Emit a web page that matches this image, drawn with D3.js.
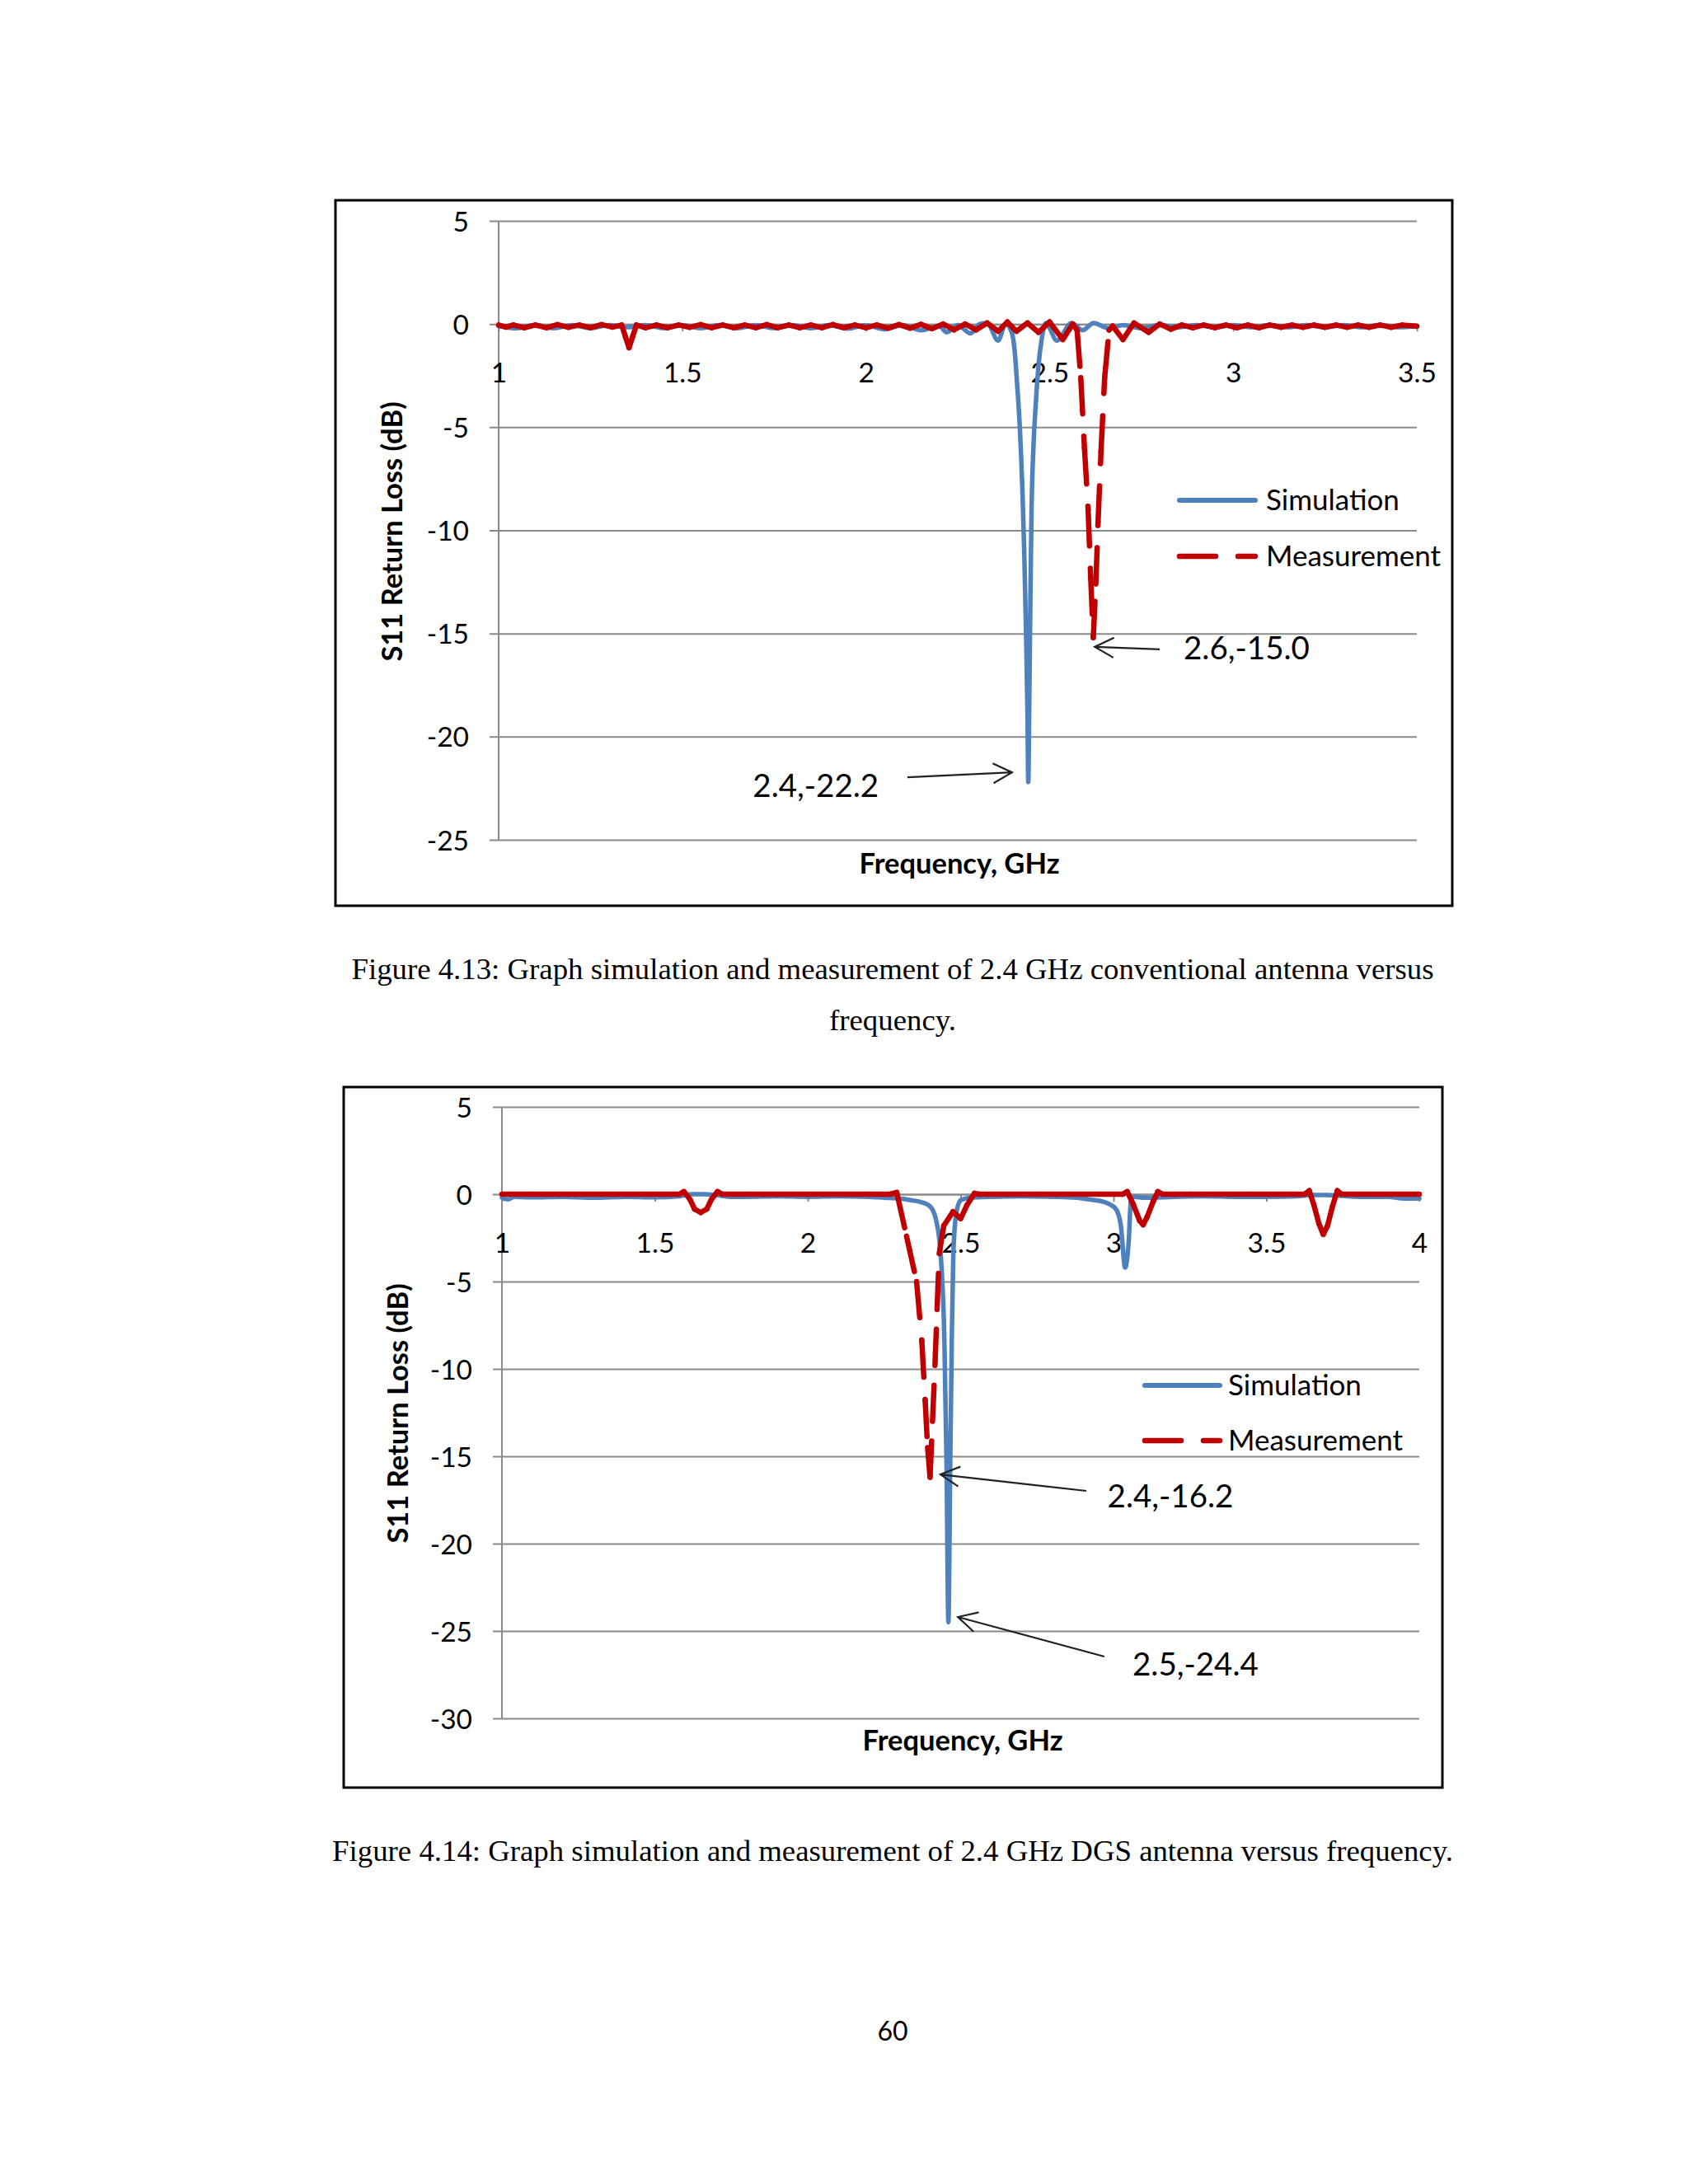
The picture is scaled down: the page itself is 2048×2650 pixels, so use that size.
<!DOCTYPE html>
<html><head><meta charset="utf-8">
<script src="https://cdn.jsdelivr.net/npm/d3@7"></script>
<style>body{margin:0;background:#fff}svg{display:block}</style>
</head><body>
<svg id="page" width="2048" height="2650"></svg>
<script>
// ---------------- data ----------------
const seriesNames = ["Simulation", "Measurement"];
const xTitle = "Frequency, GHz";
const yTitle = "S11 Return Loss (dB)";

// Figure 4.13 (conventional antenna)
const xTicks1 = [1, 1.5, 2, 2.5, 3, 3.5];
const yTicks1 = [5, 0, -5, -10, -15, -20, -25];
const sim1X = [1.00,1.05,1.10,1.15,1.20,1.25,1.30,1.35,1.40,1.45,1.50,1.55,1.60,1.65,1.70,1.75,1.80,1.85,1.90,1.95,2.00,2.05,2.10,2.15,2.20,2.22,2.25,2.285,2.31,2.33,2.36,2.38,2.397,2.405,2.412,2.419,2.426,2.431,2.436,2.440,2.442,2.445,2.448,2.451,2.456,2.462,2.470,2.478,2.49,2.52,2.56,2.59,2.62,2.66,2.70,2.75,2.80,2.85,2.90,2.95,3.00,3.05,3.10,3.15,3.20,3.25,3.30,3.35,3.40,3.45,3.50];
const sim1Y = [-0.1,-0.2,-0.05,-0.2,-0.05,-0.2,-0.05,-0.15,-0.05,-0.2,-0.05,-0.2,-0.05,-0.2,-0.05,-0.2,-0.05,-0.2,-0.05,-0.22,-0.05,-0.25,-0.05,-0.3,-0.1,-0.4,-0.05,-0.45,0.0,0.05,-0.8,0.0,-0.4,-1.3,-3,-5,-8,-11,-15,-19,-22.2,-18,-13,-9,-6,-4,-2,-0.8,0.05,-0.8,0.05,-0.3,0.05,-0.2,-0.05,-0.2,-0.05,-0.15,-0.05,-0.15,-0.05,-0.15,-0.05,-0.15,-0.05,-0.15,-0.05,-0.15,-0.05,-0.15,-0.1];
const meas1X = [1.00,1.02,1.04,1.07,1.10,1.13,1.16,1.19,1.22,1.25,1.28,1.31,1.335,1.345,1.355,1.365,1.375,1.40,1.43,1.46,1.49,1.52,1.55,1.58,1.61,1.64,1.67,1.70,1.73,1.76,1.79,1.82,1.85,1.88,1.91,1.94,1.97,2.00,2.03,2.06,2.09,2.12,2.15,2.18,2.21,2.24,2.27,2.30,2.33,2.36,2.385,2.41,2.44,2.47,2.50,2.536,2.563,2.575,2.585,2.595,2.605,2.612,2.619,2.626,2.632,2.640,2.650,2.662,2.672,2.70,2.73,2.77,2.80,2.83,2.86,2.89,2.92,2.95,2.98,3.01,3.04,3.07,3.10,3.13,3.16,3.19,3.22,3.25,3.28,3.31,3.34,3.37,3.40,3.43,3.46,3.50];
const meas1Y = [-0.05,-0.15,-0.05,-0.18,-0.05,-0.18,-0.03,-0.16,-0.05,-0.18,-0.03,-0.15,-0.05,-0.6,-1.15,-0.6,-0.05,-0.18,-0.05,-0.18,-0.05,-0.16,-0.03,-0.18,-0.05,-0.18,-0.05,-0.18,-0.03,-0.18,-0.05,-0.18,-0.05,-0.18,-0.03,-0.18,-0.05,-0.18,-0.05,-0.2,-0.03,-0.2,-0.02,-0.22,0.0,-0.28,0.0,-0.28,0.05,-0.35,0.1,-0.35,0.05,-0.4,0.1,-0.75,0.0,-0.3,-2.6,-6.0,-9.0,-12.3,-15.2,-12.6,-9.6,-6.2,-2.6,-0.3,-0.1,-0.75,0.05,-0.4,0.0,-0.25,-0.05,-0.18,-0.05,-0.18,-0.05,-0.18,-0.05,-0.18,-0.05,-0.16,-0.05,-0.16,-0.05,-0.16,-0.05,-0.16,-0.05,-0.16,-0.05,-0.16,-0.05,-0.1];
const notes1 = ["2.6,-15.0", "2.4,-22.2"];
const noteTip1 = [[2.623, -15.65], [2.398, -21.73]];
const noteTail1 = [[2.80, -15.77], [2.113, -21.97]];
const noteText1 = [[2.865, -16.25, "start"], [2.035, -22.92, "end"]];
const caption1 = ["Figure 4.13: Graph simulation and measurement of 2.4 GHz conventional antenna versus", "frequency."];

// Figure 4.14 (DGS antenna)
const xTicks2 = [1, 1.5, 2, 2.5, 3, 3.5, 4];
const yTicks2 = [5, 0, -5, -10, -15, -20, -25, -30];
const sim2X = [1.00,1.02,1.04,1.10,1.20,1.30,1.40,1.50,1.58,1.62,1.66,1.70,1.75,1.80,1.90,2.00,2.10,2.20,2.25,2.30,2.34,2.37,2.40,2.42,2.435,2.447,2.454,2.46,2.466,2.471,2.476,2.485,2.50,2.53,2.60,2.70,2.80,2.88,2.92,2.96,2.99,3.01,3.024,3.038,3.05,3.057,3.07,3.10,3.20,3.30,3.40,3.50,3.60,3.65,3.70,3.75,3.80,3.90,3.95,4.00];
const sim2Y = [-0.2,-0.3,-0.15,-0.18,-0.15,-0.2,-0.15,-0.18,-0.12,0.0,0.0,-0.05,-0.15,-0.15,-0.12,-0.15,-0.12,-0.15,-0.2,-0.25,-0.35,-0.45,-0.7,-1.5,-3.5,-8.5,-15.5,-24.5,-15.5,-8.5,-3.5,-1.2,-0.35,-0.2,-0.15,-0.12,-0.15,-0.2,-0.3,-0.4,-0.6,-0.9,-1.8,-4.2,-2.6,-0.3,-0.15,-0.2,-0.15,-0.12,-0.15,-0.15,-0.12,-0.05,-0.05,-0.1,-0.15,-0.15,-0.25,-0.25];
const meas2X = [1.00,1.10,1.20,1.30,1.40,1.50,1.58,1.595,1.615,1.63,1.65,1.67,1.685,1.705,1.72,1.80,1.90,2.00,2.10,2.20,2.27,2.291,2.323,2.356,2.373,2.384,2.392,2.400,2.408,2.416,2.423,2.430,2.445,2.475,2.50,2.52,2.545,2.56,2.65,2.75,2.85,2.95,3.03,3.045,3.065,3.085,3.097,3.11,3.13,3.145,3.16,3.25,3.35,3.45,3.55,3.625,3.64,3.655,3.672,3.686,3.70,3.716,3.732,3.745,3.85,3.95,4.00];
const meas2Y = [0,0,0,0,0,0,0,0.15,-0.3,-0.85,-1.05,-0.85,-0.3,0.15,0,0,0,0,0,0,0,0.1,-2.4,-5.0,-8.4,-11.8,-14.5,-16.2,-13.0,-9.8,-6.6,-3.4,-1.8,-1.0,-1.4,-0.65,0.05,0,0,0,0,0,0,0.15,-0.6,-1.5,-1.75,-1.3,-0.4,0.15,0,0,0,0,0,0,0.2,-0.6,-1.7,-2.3,-1.8,-0.7,0.2,0,0,0,0];
const notes2 = ["2.4,-16.2", "2.5,-24.4"];
const noteTip2 = [[2.434, -16.04], [2.491, -24.2]];
const noteTail2 = [[2.911, -16.98], [2.97, -26.46]];
const noteText2 = [[2.98, -17.92, "start"], [3.062, -27.55, "start"]];
const caption2 = ["Figure 4.14: Graph simulation and measurement of 2.4 GHz DGS antenna versus frequency."];
const pageNumber = "60";

// ---------------- layout & style ----------------
const SANS = "Lato, 'Open Sans', 'DejaVu Sans', sans-serif";
const SERIF = "'Liberation Serif', 'Times New Roman', serif";
const BLUE = "#4F81BD", RED = "#C00000", GRID = "#8a8a8a";
const svg = d3.select("#page");
svg.append("rect").attr("width", 2048).attr("height", 2650).attr("fill", "#fff");

function drawChart(L, D) {
  const g = svg.append("g");
  // border
  g.append("rect").attr("x", L.box[0]).attr("y", L.box[1])
    .attr("width", L.box[2] - L.box[0]).attr("height", L.box[3] - L.box[1])
    .attr("fill", "#fff").attr("stroke", "#000").attr("stroke-width", 3);

  const x = d3.scaleLinear().domain(D.xDomain).range(L.px);
  const y = d3.scaleLinear().domain(D.yDomain).range([L.py[1], L.py[0]]);
  const plotW = L.px[1] - L.px[0];

  // y axis with gridlines
  const ya = g.append("g").attr("transform", `translate(${L.px[0]},0)`)
    .call(d3.axisLeft(y).tickValues(D.yTicks).tickSize(-plotW).tickSizeOuter(0).tickPadding(36)
      .tickFormat(d => String(d)));
  ya.select(".domain").remove();
  ya.selectAll(".tick line").attr("x1", -11).attr("stroke", GRID).attr("stroke-width", 2);
  ya.selectAll(".tick text").attr("font-family", SANS).attr("font-size", 33.5).attr("fill", "#000")
    .attr("dy", "0.36em");
  // vertical axis line
  g.append("line").attr("x1", L.px[0]).attr("x2", L.px[0]).attr("y1", y(D.yDomain[1])).attr("y2", y(D.yDomain[0]))
    .attr("stroke", GRID).attr("stroke-width", 2);

  // x axis crossing at 0
  const xa = g.append("g").attr("transform", `translate(0,${y(0)})`)
    .call(d3.axisBottom(x).tickValues(D.xTicks).tickSize(9).tickSizeOuter(0).tickPadding(38)
      .tickFormat(d => String(d)));
  xa.select(".domain").attr("stroke", GRID).attr("stroke-width", 2);
  xa.selectAll(".tick line").attr("stroke", GRID).attr("stroke-width", 2);
  xa.selectAll(".tick text").attr("font-family", SANS).attr("font-size", 33.5).attr("fill", "#000");

  // axis titles
  g.append("text").attr("x", L.xTitle[0]).attr("y", L.xTitle[1]).attr("text-anchor", "middle")
    .attr("font-family", SANS).attr("font-weight", "bold").attr("font-size", 34.5).text(xTitle);
  g.append("text").attr("transform", `translate(${L.yTitle[0]},${L.yTitle[1]}) rotate(-90)`)
    .attr("text-anchor", "middle").attr("dominant-baseline", "central")
    .attr("font-family", SANS).attr("font-weight", "bold").attr("font-size", 34.5).text(yTitle);

  // simulation (smooth solid)
  const simPts = D.simX.map((v, i) => [v, D.simY[i]]);
  g.append("path").datum(simPts)
    .attr("d", d3.line().x(d => x(d[0])).y(d => y(d[1])).curve(d3.curveMonotoneX))
    .attr("fill", "none").attr("stroke", BLUE).attr("stroke-width", 5.5)
    .attr("stroke-linejoin", "round").attr("stroke-linecap", "round");

  // measurement (long dash, pattern restarting at every sample)
  const measPts = D.measX.map((v, i) => [v, D.measY[i]]);
  const segs = d3.pairs(measPts);
  g.append("g").selectAll("line").data(segs).join("line")
    .attr("x1", d => x(d[0][0])).attr("y1", d => y(d[0][1]))
    .attr("x2", d => x(d[1][0])).attr("y2", d => y(d[1][1]))
    .attr("stroke", RED).attr("stroke-width", 6.5).attr("stroke-linecap", "round")
    .attr("stroke-dasharray", "44 27");

  // legend
  const lg = g.append("g");
  lg.append("line").attr("x1", L.legendX[0] + 3).attr("x2", L.legendX[1] - 3)
    .attr("y1", L.legendY[0]).attr("y2", L.legendY[0])
    .attr("stroke", BLUE).attr("stroke-width", 6).attr("stroke-linecap", "round");
  lg.append("line").attr("x1", L.legendX[0] + 3).attr("x2", L.legendX[1] - 3)
    .attr("y1", L.legendY[1]).attr("y2", L.legendY[1])
    .attr("stroke", RED).attr("stroke-width", 6.5).attr("stroke-linecap", "round")
    .attr("stroke-dasharray", "44 27");
  seriesNames.forEach((n, i) => {
    lg.append("text").attr("x", L.legendTextX).attr("y", L.legendY[i] + 12)
      .attr("font-family", SANS).attr("font-size", 35).attr("fill", "#000").text(n);
  });

  // annotations
  D.notes.forEach((t, i) => {
    const tip = [x(D.tips[i][0]), y(D.tips[i][1])];
    const tail = [x(D.tails[i][0]), y(D.tails[i][1])];
    const ang = Math.atan2(tail[1] - tip[1], tail[0] - tip[0]);
    const a = 26, spread = Math.PI / 6.5;
    const p1 = [tip[0] + a * Math.cos(ang + spread), tip[1] + a * Math.sin(ang + spread)];
    const p2 = [tip[0] + a * Math.cos(ang - spread), tip[1] + a * Math.sin(ang - spread)];
    g.append("path")
      .attr("d", `M${tail[0]},${tail[1]}L${tip[0]},${tip[1]}M${p1[0]},${p1[1]}L${tip[0]},${tip[1]}L${p2[0]},${p2[1]}`)
      .attr("fill", "none").attr("stroke", "#222").attr("stroke-width", 2.2);
    g.append("text").attr("x", x(D.texts[i][0])).attr("y", y(D.texts[i][1]))
      .attr("text-anchor", D.texts[i][2])
      .attr("font-family", SANS).attr("font-size", 38.5).attr("fill", "#000").text(t);
  });
}

drawChart(
  {box: [407, 243, 1762, 1099], px: [605, 1719], py: [268, 1019],
   legendX: [1428, 1526], legendTextX: 1536, legendY: [607, 675],
   xTitle: [1164, 1060], yTitle: [474, 645]},
  {xDomain: [1, 3.5], yDomain: [-25, 5], xTicks: xTicks1, yTicks: yTicks1,
   simX: sim1X, simY: sim1Y, measX: meas1X, measY: meas1Y,
   notes: notes1, tips: noteTip1, tails: noteTail1, texts: noteText1});

drawChart(
  {box: [417, 1319, 1750, 2169], px: [609, 1722], py: [1343, 2085],
   legendX: [1386, 1483], legendTextX: 1490, legendY: [1681, 1748],
   xTitle: [1168, 2124], yTitle: [481, 1715]},
  {xDomain: [1, 4], yDomain: [-30, 5], xTicks: xTicks2, yTicks: yTicks2,
   simX: sim2X, simY: sim2Y, measX: meas2X, measY: meas2Y,
   notes: notes2, tips: noteTip2, tails: noteTail2, texts: noteText2});

// captions & page number
const cap = svg.append("g").attr("font-family", SERIF).attr("font-size", 36.8).attr("fill", "#000")
  .attr("text-anchor", "middle");
cap.append("text").attr("x", 1083).attr("y", 1188).text(caption1[0]);
cap.append("text").attr("x", 1083).attr("y", 1250).text(caption1[1]);
cap.append("text").attr("x", 1083).attr("y", 2258).text(caption2[0]);
svg.append("text").attr("x", 1083).attr("y", 2476).attr("text-anchor", "middle")
  .attr("font-family", SANS).attr("font-size", 32).attr("fill", "#000").text(pageNumber);
</script>
</body></html>
